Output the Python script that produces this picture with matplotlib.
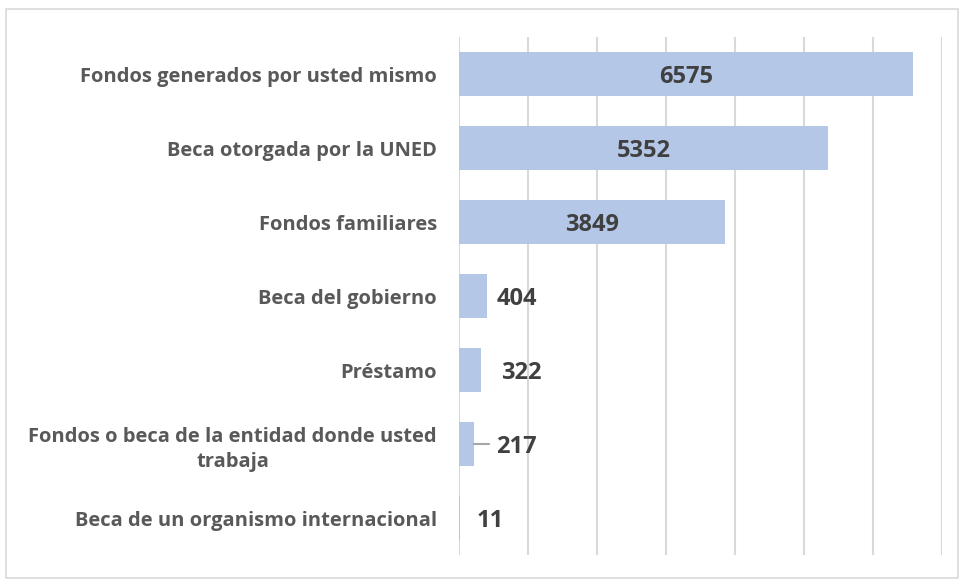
import numpy as np
import matplotlib.pyplot as plt
from matplotlib.patches import Rectangle

categories = [
    "Fondos generados por usted mismo",
    "Beca otorgada por la UNED",
    "Fondos familiares",
    "Beca del gobierno",
    "Préstamo",
    "Fondos o beca de la entidad donde usted\ntrabaja",
    "Beca de un organismo internacional",
]
values = [6575, 5352, 3849, 404, 322, 217, 11]

bar_color = "#B4C7E7"
text_color = "#595959"
value_color = "#404040"

plt.rcParams['font.family'] = ['Open Sans', 'DejaVu Sans']

fig = plt.figure(figsize=(9.61, 5.82), dpi=100)
ax = fig.add_axes([459 / 961, 1 - 555 / 582, (942 - 459) / 961, (555 - 37) / 582])

y = np.arange(len(categories))
ax.barh(y, values, height=0.6, color=bar_color, zorder=2)
ax.set_ylim(len(categories) - 0.5, -0.5)
ax.set_xlim(0, 7000)
ax.set_xticks(np.arange(0, 7001, 1000))
ax.xaxis.grid(True, color="#D9D9D9", linewidth=1.5, zorder=0)
ax.tick_params(axis="x", length=0, labelbottom=False)
ax.tick_params(axis="y", length=0, pad=16)
ax.set_yticks(y)
ax.set_yticklabels(categories, fontsize=14.5, fontweight="bold", color=text_color,
                   multialignment="center", linespacing=1.35)
for s in ax.spines.values():
    s.set_visible(False)

# label placement: inside for big bars, outside (points offset) for small ones
outside_offset = {3: 7, 4: 14, 5: 16, 6: 12}
for i, v in enumerate(values):
    if i in outside_offset:
        ax.annotate(str(v), (v, i), xytext=(outside_offset[i], -2), textcoords="offset points",
                    ha="left", va="center", fontsize=17, fontweight="bold", color=value_color)
    else:
        ax.annotate(str(v), (v / 2, i), xytext=(0, -2), textcoords="offset points",
                    ha="center", va="center", fontsize=17, fontweight="bold", color=value_color)

# leader line for the 217 label
ax.annotate("", xy=(values[5], 5), xytext=(values[5] + 220, 5),
            arrowprops=dict(arrowstyle="-", color="#A6A6A6", lw=1.5, shrinkA=0, shrinkB=0))

fig.patches.append(Rectangle((6 / 961, 1 - 578 / 582), 952 / 961, 569 / 582,
                             transform=fig.transFigure, fill=False,
                             edgecolor="#D9D9D9", linewidth=1.2))

fig.savefig("out.png", dpi=100)
